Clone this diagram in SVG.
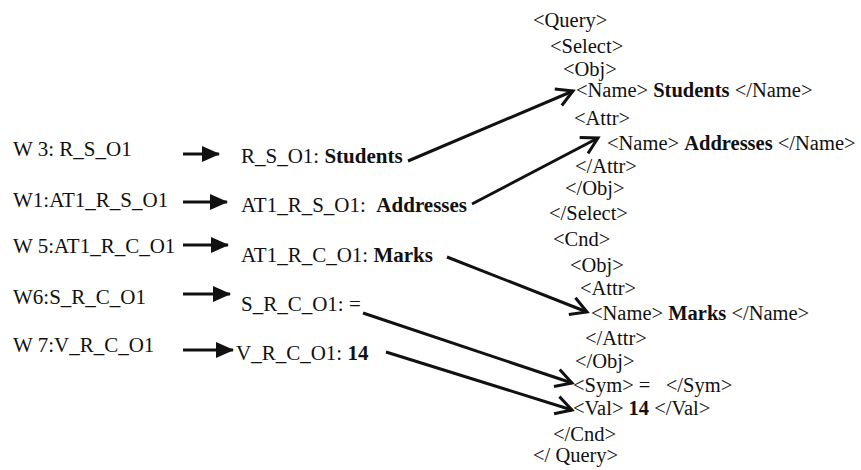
<svg xmlns="http://www.w3.org/2000/svg" width="861" height="470" viewBox="0 0 861 470">
<style>
text{font-family:"Liberation Serif","Times New Roman",serif;font-size:21px;fill:#111;white-space:pre}
#query text{font-size:20.5px}
.b{font-weight:bold}
.s{stroke:#111;stroke-width:3;fill:none}
</style>
<defs>
<marker id="solid" markerUnits="userSpaceOnUse" markerWidth="18" markerHeight="16" refX="17" refY="8" orient="auto">
<path d="M0,0 L18,8 L0,16 Z" fill="#111"/>
</marker>
<marker id="open" markerUnits="userSpaceOnUse" markerWidth="22" markerHeight="22" refX="19" refY="11" orient="auto">
<path d="M3,2 L19,11 L3,20" fill="none" stroke="#111" stroke-width="3"/>
</marker>
</defs>
<rect width="861" height="470" fill="#fff"/>
<g id="left">
<text x="13" y="156">W 3: R_S_O1</text>
<text x="13" y="207">W1:AT1_R_S_O1</text>
<text x="13" y="253">W 5:AT1_R_C_O1</text>
<text x="13" y="304">W6:S_R_C_O1</text>
<text x="13" y="352">W 7:V_R_C_O1</text>
</g>
<g id="middle">
<text x="241" y="163">R_S_O1: <tspan class="b">Students</tspan></text>
<text x="241" y="212">AT1_R_S_O1:  <tspan class="b">Addresses</tspan></text>
<text x="241" y="262">AT1_R_C_O1: <tspan class="b">Marks</tspan></text>
<text x="241" y="311">S_R_C_O1: =</text>
<text x="236" y="360">V_R_C_O1: <tspan class="b">14</tspan></text>
</g>
<g id="query">
<text x="533" y="27">&lt;Query&gt;</text>
<text x="550" y="53">&lt;Select&gt;</text>
<text x="563" y="76">&lt;Obj&gt;</text>
<text x="576" y="97">&lt;Name&gt; <tspan class="b">Students</tspan> &lt;/Name&gt;</text>
<text x="574" y="125">&lt;Attr&gt;</text>
<text x="607" y="150">&lt;Name&gt; <tspan class="b">Addresses</tspan> &lt;/Name&gt;</text>
<text x="575" y="173">&lt;/Attr&gt;</text>
<text x="565" y="195">&lt;/Obj&gt;</text>
<text x="549" y="220">&lt;/Select&gt;</text>
<text x="553" y="246">&lt;Cnd&gt;</text>
<text x="570" y="272">&lt;Obj&gt;</text>
<text x="580" y="295">&lt;Attr&gt;</text>
<text x="591" y="320">&lt;Name&gt; <tspan class="b">Marks</tspan> &lt;/Name&gt;</text>
<text x="585" y="345">&lt;/Attr&gt;</text>
<text x="575" y="368">&lt;/Obj&gt;</text>
<text x="573" y="392">&lt;Sym&gt; =   &lt;/Sym&gt;</text>
<text x="573" y="415">&lt;Val&gt; <tspan class="b">14</tspan> &lt;/Val&gt;</text>
<text x="553" y="441">&lt;/Cnd&gt;</text>
<text x="533" y="462">&lt;/ Query&gt;</text>
</g>
<g id="connectors">
<line class="s" x1="183" y1="154" x2="219" y2="154" marker-end="url(#solid)"/>
<line class="s" x1="183" y1="202" x2="227" y2="202" marker-end="url(#solid)"/>
<line class="s" x1="183" y1="245" x2="228" y2="245" marker-end="url(#solid)"/>
<line class="s" x1="183" y1="294" x2="230" y2="294" marker-end="url(#solid)"/>
<line class="s" x1="183" y1="350" x2="233" y2="350" marker-end="url(#solid)"/>
<line class="s" x1="408" y1="161" x2="573" y2="91" marker-end="url(#open)"/>
<line class="s" x1="472" y1="204" x2="598" y2="138" marker-end="url(#open)"/>
<line class="s" x1="447" y1="257" x2="587" y2="312" marker-end="url(#open)"/>
<line class="s" x1="363" y1="313" x2="572" y2="383" marker-end="url(#open)"/>
<line class="s" x1="386" y1="352" x2="572" y2="410" marker-end="url(#open)"/>
</g>
</svg>
